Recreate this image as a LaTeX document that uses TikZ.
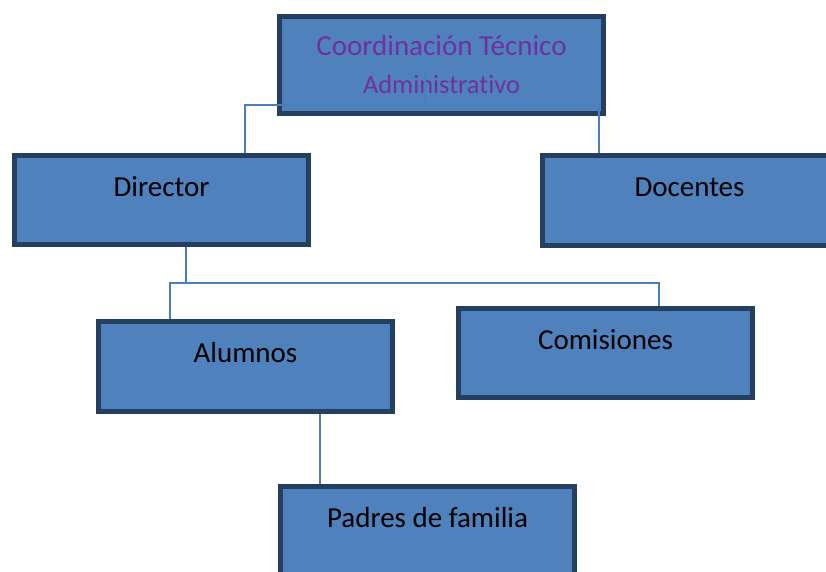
\documentclass[tikz,border=0pt]{standalone}
\usepackage{fontspec}
\setmainfont{Carlito}[RawFeature={-liga;-clig;-calt}]
\usetikzlibrary{positioning}

\definecolor{azulcaja}{HTML}{4F81BD}
\definecolor{bordecaja}{HTML}{243F60}
\definecolor{lineaazul}{HTML}{4A7EBB}
\definecolor{morado}{HTML}{7030A0}

\begin{document}
\begin{tikzpicture}[x=0.75pt,y=-0.75pt,
    caja/.style={draw=bordecaja,fill=azulcaja,line width=3.75pt,inner sep=0pt,
      font=\fontsize{21.75}{26}\selectfont},
    nivel/.style={caja,minimum width=220.5pt,text height=30.4pt,text depth=36.4pt},
    conector/.style={draw=lineaazul,line width=1pt}]
  \useasboundingbox (0,0) rectangle (826,572);

  % cajas
  \node[caja,minimum width=243pt,minimum height=72.75pt,align=center,text=morado] (coord) at (441.5,64.5)
    {Coordinación Técnico\\[3pt]{\fontsize{19.8}{24}\selectfont Administra\kern0pt tivo}};
  \node[nivel] (dir) at (161.5,200) {Director};
  \node[nivel] (doc) at (689.5,200.5) {Docentes};
  \node[nivel] (com) at (605.5,353) {Comisiones};
  \node[nivel] (alu) at (245.5,366.5) {Alumnos};
  \node[nivel] (pad) at (427.5,531) {Padres de familia};

  % codos de las lineas
  \coordinate (ct) at (425,70);
  \coordinate (c1) at (425,105);
  \coordinate (c2) at (245,105);
  \coordinate (c3) at (599,105);
  \coordinate (c4) at (186,283);
  \coordinate (c5) at (170,283);
  \coordinate (c6) at (659,283);
  \coordinate (c7) at (320,450);

  % lineas
  \draw[conector] (ct) -- (c1);
  \draw[conector] (dir.north -| c2) -- (c2) -- (c3) -- (doc.north -| c3);
  \draw[conector] (dir.south -| c4) -- (c4);
  \draw[conector] (alu.north -| c5) -- (c5) -- (c6) -- (com.north -| c6);
  \draw[conector] (alu.south -| c7) -- (pad.north -| c7);
\end{tikzpicture}
\end{document}
